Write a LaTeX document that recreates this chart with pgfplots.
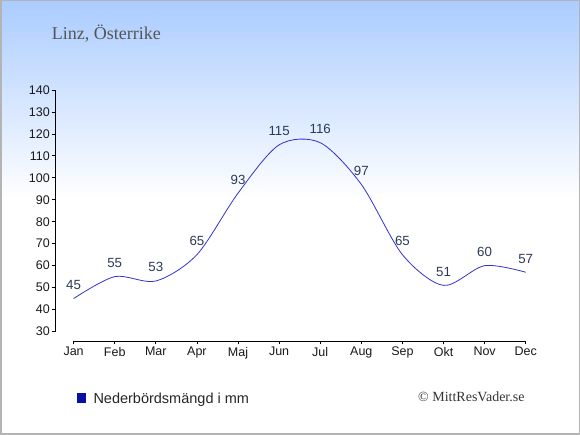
\documentclass[border=0pt]{standalone}
\usepackage{pgfplots}
\pgfplotsset{compat=1.18}
\usepackage{fontspec}
\setmainfont{Liberation Sans}
\newfontfamily\seriffont{Liberation Serif}
\definecolor{bgtop}{RGB}{170,204,255}
\definecolor{linec}{RGB}{51,51,204}
\definecolor{labelc}{RGB}{43,58,85}
\definecolor{legc}{RGB}{8,16,168}
\definecolor{titlec}{RGB}{85,85,85}
\definecolor{borderc}{RGB}{180,180,180}
\begin{document}
\begin{tikzpicture}[x=1bp,y=1bp]
\useasboundingbox (0,0) rectangle (580,435);
\fill[white] (0,0) rectangle (580,435);
\shade[top color=bgtop, bottom color=white] (0,235) rectangle (580,435);
\draw[borderc, line width=1.5bp] (0.75,0.75) rectangle (579.25,434.25);
\node[anchor=base west, font=\seriffont\fontsize{18bp}{20bp}\selectfont, text=titlec, inner sep=0pt] at (51.7,395) {Linz, Österrike};
\begin{axis}[
 at={(55bp,94bp)}, anchor=south west,
 scale only axis, width=470.7bp, height=251bp,
 xmin=-0.4526, xmax=11, ymin=25.68, ymax=140,
 axis x line=bottom, axis y line=left, axis line style={draw=none},
 xtick={0,...,11},
 xticklabels={Jan,Feb,Mar,Apr,Maj,Jun,Jul,Aug,Sep,Okt,Nov,Dec},
 ytick={30,40,...,140},
 tick align=outside, major tick length=3.5bp,
 tick style={black, line width=0.8bp},
 ticklabel style={font=\fontsize{12.5bp}{14bp}\selectfont, text=black!90},
 /pgf/number format/assume math mode=true,
 yticklabel style={inner sep=0pt, xshift=-1.5bp},
 xticklabel style={inner sep=0pt, yshift=-2.5bp},
 clip=false,
 nodes near coords,
 nodes near coords style={font=\fontsize{13.3bp}{15bp}\selectfont, text=labelc, anchor=south, inner sep=0pt, yshift=8.5bp},
]
\addplot[color=linec, line width=0.8bp, smooth, mark=none] coordinates {
(0,45) (1,55) (2,53) (3,65) (4,93) (5,115) (6,116) (7,97) (8,65) (9,51) (10,60) (11,57)};
\draw[line width=0.8bp] (axis cs:0,25.68) -- (axis cs:11,25.68);
\draw[line width=0.8bp] (axis cs:-0.4526,30) -- (axis cs:-0.4526,140);
\end{axis}
\fill[legc] (76.7,31.7) rectangle (86,41.7);
\node[anchor=base west, inner sep=0pt, font=\fontsize{14.5bp}{16bp}\selectfont, text=black!85] at (93.3,31.7) {Nederbördsmängd i mm};
\node[anchor=base west, inner sep=0pt, font=\seriffont\fontsize{14bp}{16bp}\selectfont, text=black!80] at (418,33.3) {© MittResVader.se};
\end{tikzpicture}
\end{document}
